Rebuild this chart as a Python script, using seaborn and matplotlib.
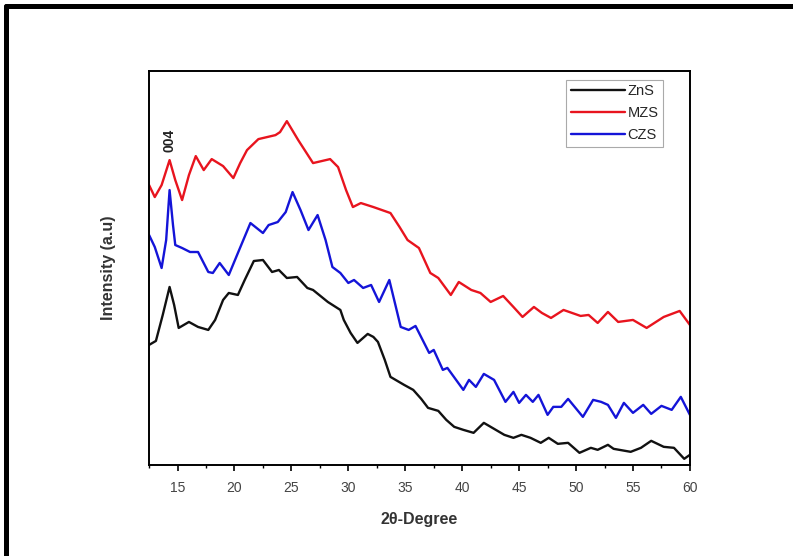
import pandas as pd
import matplotlib.pyplot as plt
import seaborn as sns
from matplotlib.ticker import MultipleLocator, AutoMinorLocator
from matplotlib.lines import Line2D

# XRD patterns (2theta in degrees, intensity in a.u.)
zns_2theta = [12.5, 13.1, 13.7, 14.3, 14.7, 15.1, 16.0, 16.8, 17.7, 18.3, 19.0, 19.5,
              20.3, 20.9, 21.7, 22.5, 23.3, 23.9, 24.6, 25.5, 26.4, 26.9, 28.2, 29.3,
              29.6, 30.2, 30.8, 31.7, 32.2, 32.6, 33.2, 33.7, 34.9, 35.7, 36.4, 37.0,
              37.9, 38.6, 39.3, 40.1, 41.0, 41.9, 42.8, 43.7, 44.5, 45.2, 46.0, 46.9,
              47.6, 48.4, 49.3, 50.3, 51.3, 51.9, 52.8, 53.3, 54.8, 55.7, 56.6, 57.7,
              58.6, 59.5, 60.0]
zns_int = [120, 124, 150, 178, 160, 137, 143, 138, 135, 145, 165, 172,
           170, 185, 204, 205, 193, 195, 187, 188, 177, 175, 163, 155,
           145, 132, 122, 131, 128, 123, 105, 88, 80, 75, 66, 57,
           54, 45, 38, 35, 32, 42, 36, 30, 27, 30, 27, 22,
           27, 21, 22, 12, 17, 15, 20, 16, 13, 17, 24, 18,
           17, 6, 10]

mzs_2theta = [12.5, 13.0, 13.6, 14.3, 14.8, 15.4, 16.0, 16.6, 17.3, 18.0, 19.0, 19.9,
              20.5, 21.1, 22.1, 23.6, 24.0, 24.6, 25.6, 26.9, 28.4, 29.1, 29.8, 30.4,
              31.1, 32.2, 33.7, 34.5, 35.2, 36.2, 37.2, 37.9, 39.0, 39.7, 40.8, 41.6,
              42.5, 43.6, 44.5, 45.3, 46.3, 47.0, 47.8, 48.9, 50.4, 51.1, 51.9, 52.8,
              53.7, 55.0, 56.2, 57.7, 59.1, 60.0]
mzs_int = [280, 268, 280, 305, 285, 265, 290, 309, 295, 306, 299, 287,
           302, 315, 326, 330, 333, 344, 325, 302, 306, 298, 275, 258,
           262, 258, 252, 238, 225, 217, 192, 187, 170, 183, 175, 172,
           163, 169, 158, 148, 158, 152, 147, 155, 149, 150, 142, 153,
           143, 145, 137, 148, 154, 140]

czs_2theta = [12.5, 13.0, 13.6, 14.0, 14.3, 14.6, 14.8, 15.4, 16.1, 16.8, 17.7, 18.1,
              18.7, 19.5, 20.3, 21.4, 22.5, 23.0, 23.8, 24.5, 25.1, 25.8, 26.5, 27.3,
              28.0, 28.6, 29.3, 30.0, 30.5, 31.3, 32.0, 32.7, 33.6, 34.6, 35.3, 35.9,
              37.1, 37.5, 38.3, 38.7, 40.1, 40.6, 41.2, 41.9, 42.8, 43.8, 44.5, 45.0,
              45.6, 46.2, 46.7, 47.5, 48.0, 48.7, 49.3, 50.6, 51.5, 52.2, 52.8, 53.5,
              54.2, 55.0, 55.9, 56.6, 57.5, 58.4, 59.2, 60.0]
czs_int = [230, 218, 197, 225, 275, 240, 220, 217, 213, 213, 193, 192,
           202, 190, 212, 242, 232, 240, 243, 253, 273, 255, 235, 250,
           225, 198, 192, 182, 185, 177, 180, 163, 185, 138, 135, 139,
           112, 115, 95, 97, 75, 85, 78, 91, 85, 63, 73, 62,
           70, 63, 70, 50, 58, 58, 66, 48, 65, 63, 60, 47,
           62, 52, 60, 51, 59, 55, 68, 50]

labels = ["ZnS", "MZS", "CZS"]
colors = ["#111111", "#e8141e", "#1414d8"]

sns.set_theme(style="ticks")
plt.rcParams["font.family"] = ["Liberation Sans", "DejaVu Sans"]

fig = plt.figure(figsize=(7.93, 5.56), dpi=100)
ax = fig.add_axes([0.188, 0.164, 0.682, 0.708])

series = [(zns_2theta, zns_int), (mzs_2theta, mzs_int), (czs_2theta, czs_int)]
for (x, y), lab, col in zip(series, labels, colors):
    sns.lineplot(x=x, y=y, ax=ax, color=col, lw=1.7, label=lab, sort=False,
                 solid_joinstyle="round")

ax.set_xlim(12.5, 60)
ax.set_ylim(0, 394)
ax.set_yticks([])
ax.xaxis.set_major_locator(MultipleLocator(5))
ax.xaxis.set_minor_locator(AutoMinorLocator(2))
ax.tick_params(axis="x", which="major", direction="out", length=4, width=1.2,
               labelsize=10, labelcolor="#444444", color="black", pad=8)
ax.tick_params(axis="x", which="minor", direction="out", length=2.5, width=1.0, color="black")
for sp in ax.spines.values():
    sp.set_visible(True)
    sp.set_color("black")
    sp.set_linewidth(1.4)

ax.set_xlabel("2\u03b8-Degree", fontsize=11.5, fontweight="bold", color="#333333", labelpad=12)
ax.set_ylabel("Intensity (a.u)", fontsize=11.5, fontweight="bold", color="#333333", labelpad=24)

ax.text(14.3, 325, "004", rotation=90, fontsize=10, fontweight="bold",
        ha="center", va="center", color="#222222")

leg = ax.legend(loc="upper right", bbox_to_anchor=(0.95, 0.978), fontsize=10.5,
                handlelength=3.7, labelspacing=0.55, handletextpad=0.2,
                borderpad=0.3, fancybox=False, framealpha=1, borderaxespad=0)
leg.get_frame().set_edgecolor("#aaaaaa")
leg.get_frame().set_linewidth(0.8)

# outer frame of the figure (left and top edges)
fig.add_artist(Line2D([0.007, 0.007], [0, 0.99], color="black", lw=3.6, transform=fig.transFigure))
fig.add_artist(Line2D([0.007, 1.0], [0.99, 0.99], color="black", lw=3.6, transform=fig.transFigure))

fig.savefig("out.png", dpi=100)
